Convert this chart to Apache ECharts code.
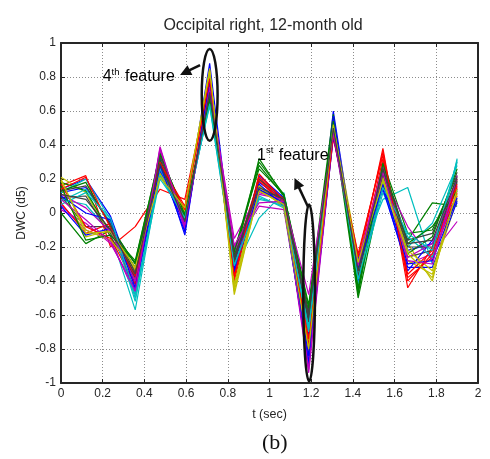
<!DOCTYPE html>
<html>
<head>
<meta charset="utf-8">
<script src="https://cdn.jsdelivr.net/npm/echarts@6/dist/echarts.min.js"></script>
<style>
  html, body { margin: 0; padding: 0; background: #fff; }
  #chart { width: 490px; height: 459px; }
</style>
</head>
<body>
<div id="chart"></div>
<script>
// Sample times of the level-5 wavelet coefficients (seconds)
const timeSec = [0, 0.119, 0.238, 0.356, 0.475, 0.594, 0.713, 0.831, 0.95, 1.069, 1.188, 1.306, 1.425, 1.544, 1.663, 1.781, 1.9];

// DWC (d5) per trial, one row per trial, one value per sample time
const trials = [
  [0.12, 0.15, -0.06, -0.38, 0.30, -0.02, 0.88, -0.30, 0.18, 0.08, -0.72, 0.60, -0.34, 0.22, -0.22, -0.18, 0.14],
  [0.00, -0.18, -0.10, -0.32, 0.26, -0.04, 0.74, -0.28, 0.32, 0.10, -0.66, 0.52, -0.50, 0.18, -0.16, 0.06, 0.04],
  [0.16, 0.22, -0.20, -0.08, 0.14, 0.08, 0.78, -0.26, 0.20, 0.06, -0.70, 0.48, -0.30, 0.38, -0.44, -0.20, 0.10],
  [0.08, 0.05, -0.12, -0.57, 0.24, -0.06, 0.70, -0.34, -0.03, 0.12, -0.62, 0.50, -0.28, 0.08, 0.15, -0.30, 0.32],
  [0.05, -0.10, -0.16, -0.48, 0.39, -0.08, 0.72, -0.15, 0.12, 0.08, -0.94, 0.46, -0.36, 0.26, -0.30, -0.24, -0.05],
  [0.21, 0.12, -0.14, -0.36, 0.22, 0.02, 0.85, -0.48, 0.14, 0.04, -0.84, 0.54, -0.26, 0.20, -0.18, -0.40, 0.20],
  [0.10, -0.08, -0.08, -0.30, 0.28, -0.03, 0.68, -0.24, 0.16, 0.07, -0.58, 0.49, -0.32, 0.24, -0.26, -0.22, 0.18],
  [0.14, 0.20, -0.02, -0.42, 0.32, -0.13, 0.80, -0.36, 0.22, 0.09, -0.90, 0.56, -0.40, 0.16, -0.34, -0.16, 0.06],
  [0.18, 0.13, -0.12, -0.28, 0.34, 0.00, 0.66, -0.22, 0.26, 0.11, -0.54, 0.58, -0.48, 0.30, -0.12, -0.10, 0.22],
  [0.06, -0.12, -0.06, -0.40, 0.27, -0.05, 0.76, -0.40, 0.19, 0.05, -0.80, 0.44, -0.24, 0.34, -0.38, -0.26, 0.12],
  [0.12, 0.20, -0.04, -0.50, 0.20, -0.01, 0.63, -0.32, 0.10, 0.03, -0.66, 0.53, -0.42, 0.12, -0.20, -0.06, 0.28],
  [0.02, -0.06, -0.18, -0.44, 0.36, -0.10, 0.75, -0.20, 0.04, 0.02, -0.86, 0.47, -0.30, 0.22, -0.08, -0.28, 0.16],
  [0.15, -0.14, -0.10, -0.34, 0.24, 0.03, 0.82, -0.44, 0.15, 0.06, -0.76, 0.51, -0.38, 0.18, -0.28, -0.36, 0.08],
  [0.09, 0.10, -0.14, -0.38, 0.30, -0.06, 0.71, -0.27, 0.13, 0.09, -0.64, 0.50, -0.35, 0.27, -0.16, -0.12, 0.24],
  [0.04, -0.13, -0.09, -0.46, 0.25, -0.07, 0.73, -0.33, 0.17, 0.04, -0.88, 0.45, -0.27, 0.14, -0.32, -0.32, 0.07],
  [0.13, 0.18, -0.08, -0.30, 0.31, -0.02, 0.69, -0.25, 0.28, 0.10, -0.60, 0.55, -0.44, 0.25, -0.24, -0.14, 0.26],
  [0.17, -0.08, -0.15, -0.42, 0.29, 0.04, 0.77, -0.38, 0.23, 0.07, -0.74, 0.49, -0.33, 0.32, -0.36, -0.22, 0.15],
  [0.07, 0.14, -0.05, -0.52, 0.26, -0.04, 0.65, -0.30, 0.08, 0.05, -0.70, 0.52, -0.36, 0.19, -0.14, -0.26, 0.30],
  [0.11, 0.03, -0.11, -0.40, 0.37, -0.09, 0.74, -0.23, 0.11, 0.08, -0.92, 0.48, -0.29, 0.28, -0.26, -0.18, 0.20],
  [0.19, -0.10, -0.16, -0.33, 0.23, 0.01, 0.80, -0.42, 0.16, 0.03, -0.82, 0.50, -0.31, 0.21, -0.22, -0.34, 0.11],
  [0.13, 0.16, -0.07, -0.35, 0.33, -0.04, 0.70, -0.29, 0.20, 0.08, -0.62, 0.53, -0.37, 0.23, -0.20, -0.20, 0.19],
  [0.10, 0.00, -0.04, -0.44, 0.28, -0.11, 0.78, -0.35, 0.14, 0.06, -0.84, 0.57, -0.33, 0.17, -0.30, -0.28, 0.09],
  [0.16, -0.16, -0.13, -0.29, 0.35, -0.01, 0.67, -0.23, 0.30, 0.11, -0.56, 0.54, -0.46, 0.29, -0.18, -0.08, 0.13],
  [0.14, 0.21, -0.09, -0.37, 0.30, 0.02, 0.79, -0.37, 0.21, 0.08, -0.78, 0.46, -0.26, 0.36, -0.40, -0.24, 0.17],
  [0.05, 0.12, -0.03, -0.48, 0.22, -0.03, 0.64, -0.31, 0.09, 0.04, -0.68, 0.51, -0.39, 0.15, -0.12, -0.22, 0.31],
  [0.08, -0.04, -0.17, -0.46, 0.38, -0.07, 0.72, -0.19, 0.06, 0.07, -0.48, 0.47, -0.31, 0.24, -0.28, -0.30, 0.22],
  [0.20, -0.12, -0.11, -0.32, 0.21, 0.03, 0.84, -0.46, 0.13, 0.05, -0.80, 0.52, -0.29, 0.19, -0.24, -0.38, 0.14],
  [0.11, 0.08, -0.10, -0.36, 0.29, -0.05, 0.71, -0.26, 0.15, 0.08, -0.60, 0.50, -0.34, 0.26, -0.18, -0.16, 0.21]
];

// Classic line colour order, cycled over the trials
const lineColors = ['#0000ff', '#008000', '#ff0000', '#00bfbf', '#bf00bf', '#bfbf00', '#404040'];

// Annotation anchors in data units
const feature4 = { cx: 0.713, cy: 0.695, rx: 0.038, ry: 0.27, from: [0.667, 0.87], tip: [0.571, 0.812], label: [0.20, 0.80], nth: '4', suffix: 'th' };
const feature1 = { cx: 1.19, cy: -0.47, rx: 0.028, ry: 0.52, from: [1.185, 0.035], tip: [1.12, 0.206], label: [0.94, 0.34], nth: '1', suffix: 'st' };

const FONT = '"Liberation Sans", Arial, Helvetica, sans-serif';
const TEXT_COLOR = '#262626';

const chart = echarts.init(document.getElementById('chart'), null, { renderer: 'canvas' });

const series = trials.map((vals, i) => ({
  type: 'line',
  data: vals.map((v, k) => [timeSec[k], v]),
  showSymbol: false,
  symbol: 'none',
  lineStyle: { width: 1.2, color: lineColors[i % lineColors.length] },
  color: lineColors[i % lineColors.length],
  xAxisIndex: 0,
  yAxisIndex: 0,
  animation: false,
  silent: true
}));

const gridLine = { show: true, lineStyle: { color: '#8c8c8c', width: 1, type: [1, 2] } };
const boxLine = { show: true, onZero: false, lineStyle: { color: '#262626', width: 2 } };

chart.setOption({
  animation: false,
  backgroundColor: '#fff',
  title: {
    text: 'Occipital right, 12-month old',
    left: 258,
    top: 13,
    textAlign: 'center',
    textStyle: { fontFamily: FONT, fontSize: 16, fontWeight: 'normal', color: TEXT_COLOR }
  },
  grid: { left: 61, right: 12, top: 43, bottom: 76, containLabel: false },
  xAxis: [
    {
      type: 'value', min: 0, max: 2, interval: 0.2, position: 'bottom',
      name: 't (sec)', nameLocation: 'middle', nameGap: 25,
      nameTextStyle: { fontFamily: FONT, fontSize: 12.5, color: TEXT_COLOR },
      axisLine: boxLine,
      axisTick: { show: true, inside: true, length: 4, lineStyle: { color: '#262626', width: 1 } },
      axisLabel: { fontFamily: FONT, fontSize: 12, color: TEXT_COLOR, margin: 5 },
      splitLine: gridLine
    },
    {
      type: 'value', min: 0, max: 2, interval: 0.2, position: 'top',
      axisLine: boxLine,
      axisTick: { show: true, inside: true, length: 4, lineStyle: { color: '#262626', width: 1 } },
      axisLabel: { show: false },
      splitLine: { show: false }
    }
  ],
  yAxis: [
    {
      type: 'value', min: -1, max: 1, interval: 0.2, position: 'left',
      name: 'DWC (d5)', nameLocation: 'middle', nameGap: 33, nameRotate: 90,
      nameMoveOverlap: false,
      nameTextStyle: { fontFamily: FONT, fontSize: 12, color: TEXT_COLOR },
      axisLine: boxLine,
      axisTick: { show: true, inside: true, length: 4, lineStyle: { color: '#262626', width: 1 } },
      axisLabel: { fontFamily: FONT, fontSize: 12, color: TEXT_COLOR, margin: 5 },
      splitLine: gridLine
    },
    {
      type: 'value', min: -1, max: 1, interval: 0.2, position: 'right',
      axisLine: boxLine,
      axisTick: { show: true, inside: true, length: 4, lineStyle: { color: '#262626', width: 1 } },
      axisLabel: { show: false },
      splitLine: { show: false }
    }
  ],
  series: series
});

// Annotations: ellipse around a feature, arrow and superscripted label
function px(pt) {
  return chart.convertToPixel({ gridIndex: 0 }, pt);
}

function annotation(f) {
  const c = px([f.cx, f.cy]);
  const edgeX = px([f.cx + f.rx, f.cy]);
  const edgeY = px([f.cx, f.cy + f.ry]);
  const from = px(f.from);
  const tip = px(f.tip);
  const lab = px(f.label);
  const dx = tip[0] - from[0], dy = tip[1] - from[1];
  const len = Math.sqrt(dx * dx + dy * dy);
  const ux = dx / len, uy = dy / len;
  const headLen = 11, headHalf = 5.5;
  const bx = tip[0] - ux * headLen, by = tip[1] - uy * headLen;
  return [
    {
      type: 'ellipse',
      shape: { cx: c[0], cy: c[1], rx: Math.abs(edgeX[0] - c[0]), ry: Math.abs(edgeY[1] - c[1]) },
      style: { fill: 'none', stroke: '#111', lineWidth: 2.5 },
      z: 100, silent: true
    },
    {
      type: 'line',
      shape: { x1: from[0], y1: from[1], x2: bx + ux * 2, y2: by + uy * 2 },
      style: { stroke: '#111', lineWidth: 2.5 },
      z: 100, silent: true
    },
    {
      type: 'polygon',
      shape: { points: [tip, [bx - uy * headHalf, by + ux * headHalf], [bx + uy * headHalf, by - ux * headHalf]] },
      style: { fill: '#111' },
      z: 100, silent: true
    },
    {
      type: 'text',
      x: lab[0], y: lab[1],
      style: {
        text: '{n|' + f.nth + '}{s|' + f.suffix + '}{n| feature}',
        verticalAlign: 'middle',
        align: 'left',
        rich: {
          n: { fontFamily: FONT, fontSize: 16, color: TEXT_COLOR, lineHeight: 19 },
          s: { fontFamily: FONT, fontSize: 9.5, color: TEXT_COLOR, verticalAlign: 'top', lineHeight: 19, padding: [0, 1, 8, 0] }
        }
      },
      z: 100, silent: true
    }
  ];
}

const panelTag = {
  type: 'text',
  left: 262,
  top: 432,
  style: { text: '(b)', fontFamily: '"Liberation Serif", "Times New Roman", serif', fontSize: 22, fill: '#111' },
  z: 100, silent: true
};

chart.setOption({
  graphic: annotation(feature4).concat(annotation(feature1), [panelTag])
});
</script>
</body>
</html>
